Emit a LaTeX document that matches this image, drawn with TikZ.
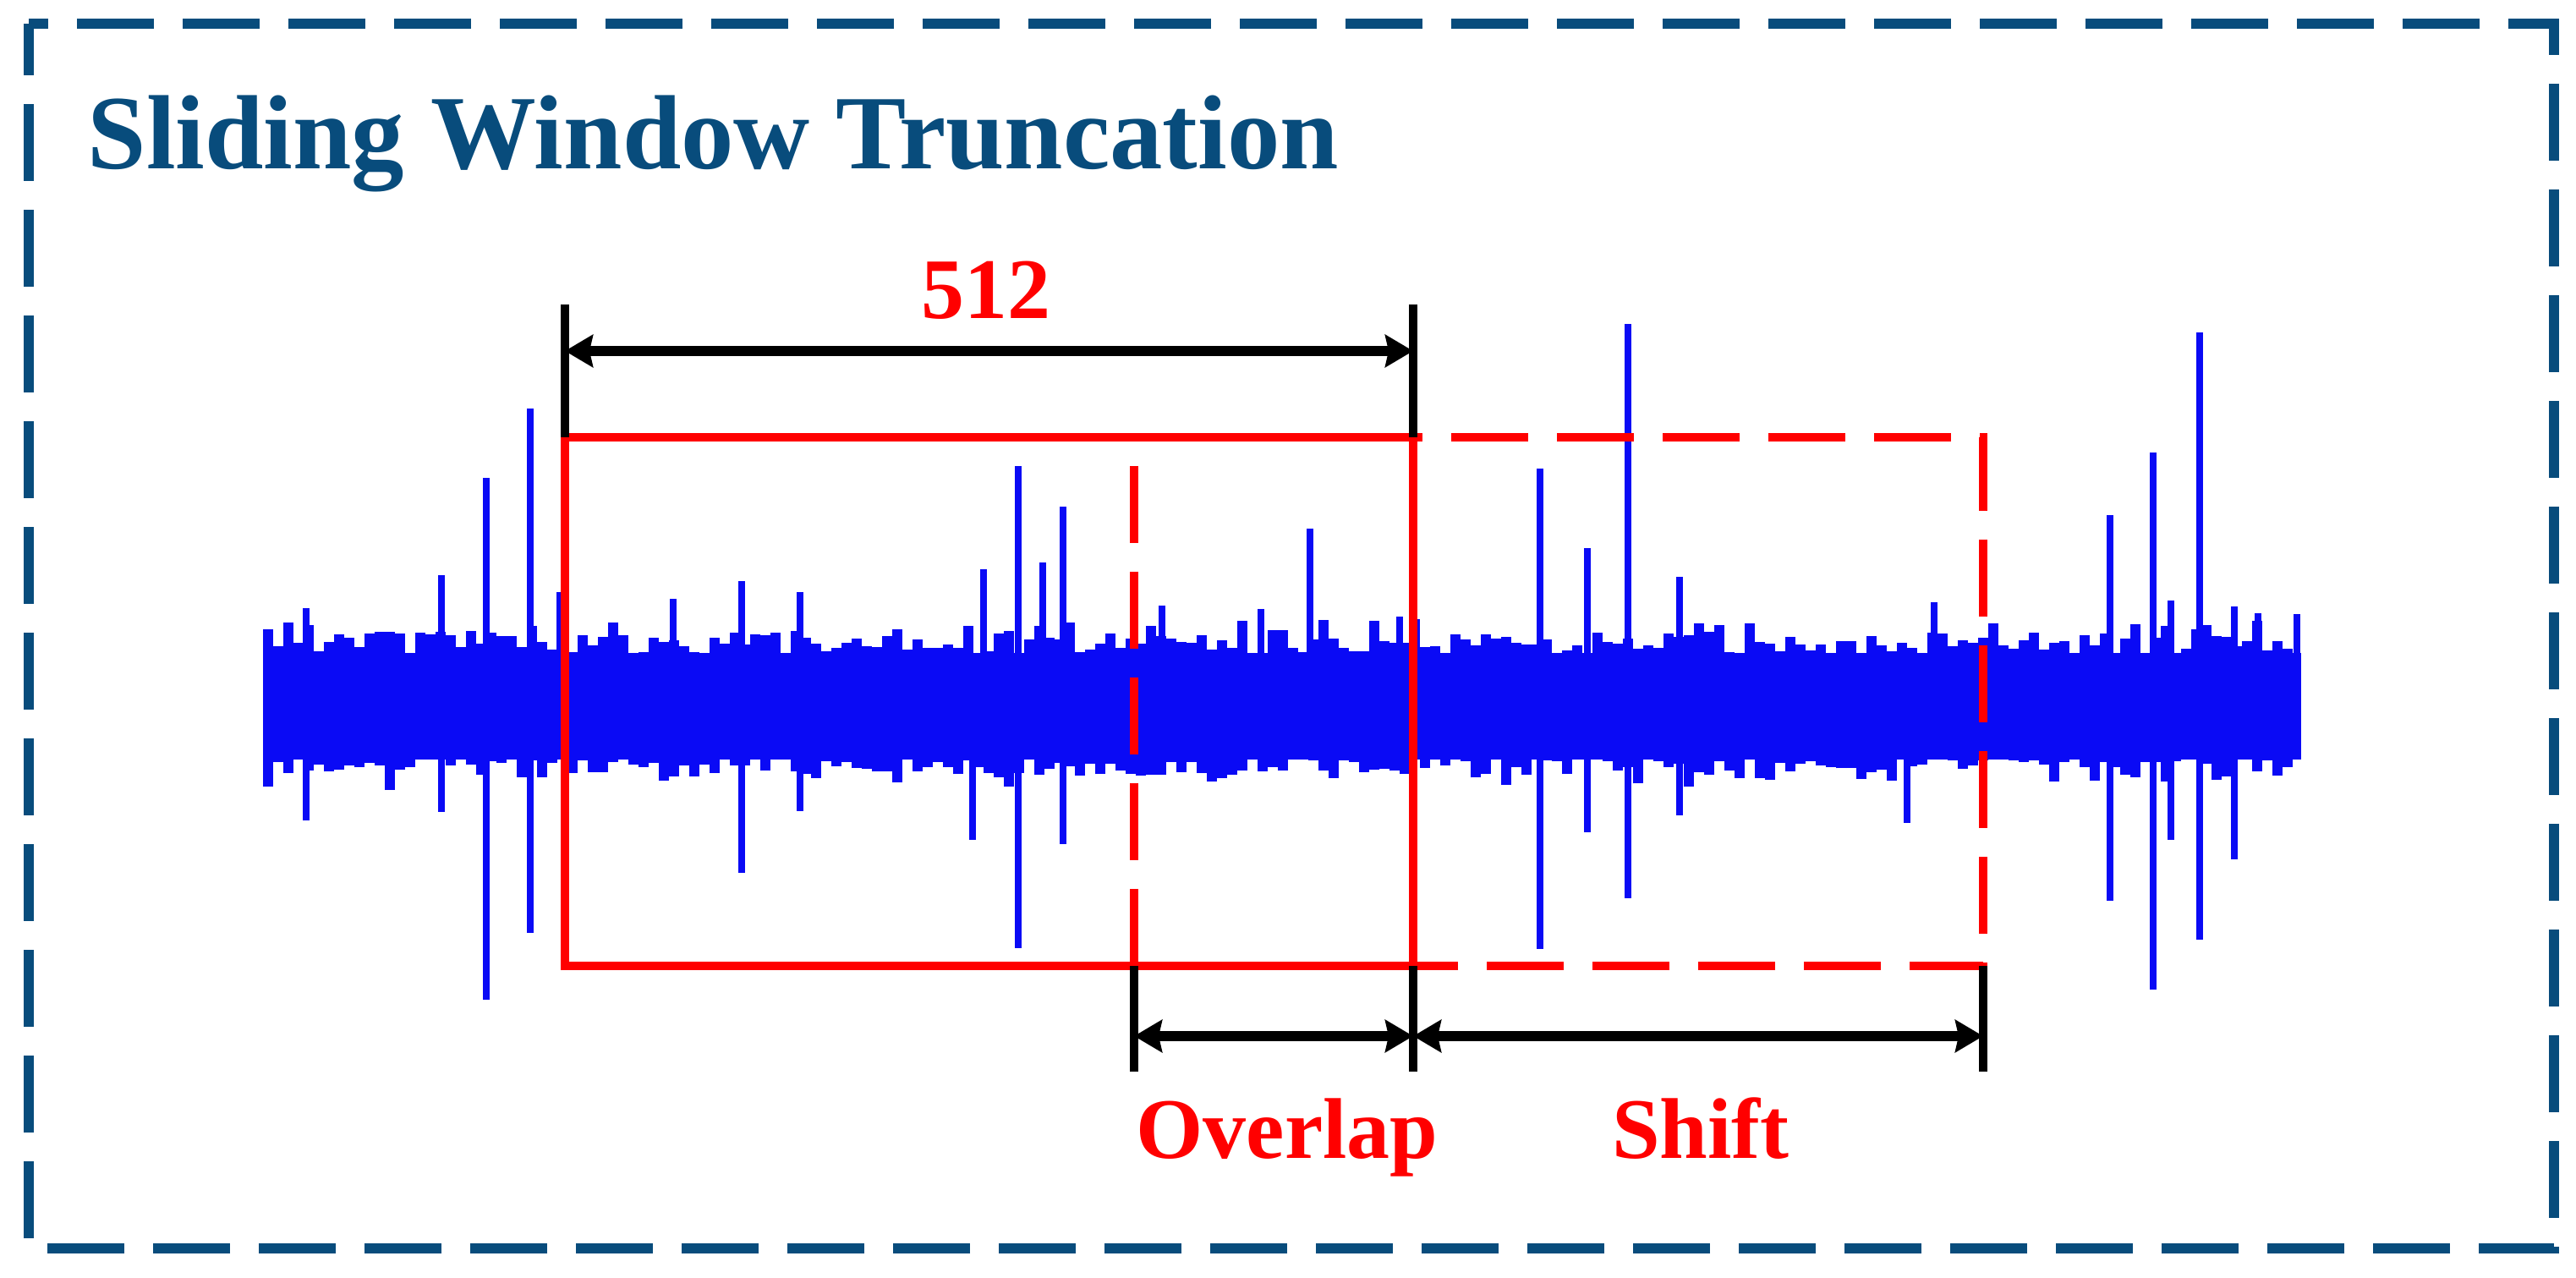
\documentclass[tikz,border=0pt]{standalone}
\usepackage{fontspec}
\setmainfont{Liberation Serif}
\usetikzlibrary{arrows.meta}
\begin{document}
\begin{tikzpicture}[x=1cm,y=1cm,
  sig/.style={draw=SigBlue, line width=0.125cm},
  spike/.style={draw=SigBlue, line width=0.08cm},
  winsolid/.style={draw=red, line width=2.8pt},
  windashed/.style={draw=red, line width=2.8pt, dash pattern=on 0.91cm off 0.34cm},
  dimtick/.style={draw=black, line width=2.7pt},
  dimarrow/.style={draw=black, line width=3.4pt, {Stealth[length=0.33cm,width=0.38cm,inset=0.04cm]}-{Stealth[length=0.33cm,width=0.38cm,inset=0.04cm]}},
  redlabel/.style={text=red, font=\fontsize{29}{34}\selectfont\bfseries, inner sep=0pt, anchor=base}]
\definecolor{FrameBlue}{HTML}{084C7C}
\definecolor{SigBlue}{HTML}{0A0AF5}
\useasboundingbox (0,0) rectangle (30.46,15.10);
\draw[FrameBlue, line width=3.4pt, dash pattern=on 0.91cm off 0.34cm, dash phase=0.68cm]
  (0.34,14.82) -- (30.20,14.82) -- (30.20,0.34) -- (0.34,0.34) -- cycle;
\node[anchor=base west, inner sep=0pt, text=FrameBlue, font=\fontsize{35.5}{42}\selectfont\bfseries] (title) at (1.03,13.10) {Sliding Window Truncation};
\fill[SigBlue] (3.11,6.12) rectangle (27.21,7.38);
\pgfmathsetseed{4217}
\foreach \x in {3.17,3.29,...,27.15}{
  \pgfmathsetmacro{\up}{6.75+0.60+0.46*rnd*(0.4+0.6*rnd)}
  \pgfmathsetmacro{\dn}{6.75-0.58-0.42*rnd*(0.4+0.6*rnd)}
  \draw[sig] (\x,\dn) -- (\x,\up);
}
\foreach \sx/\st/\sb in {3.62/7.91/5.40, 5.22/8.30/5.50, 5.75/9.45/3.28, 6.27/10.27/4.07,
    6.62/8.10/6.75, 7.96/8.02/6.75, 8.77/8.23/4.78, 9.46/8.10/5.51, 11.50/6.75/5.17,
    11.63/8.37/6.75, 12.04/9.59/3.89, 12.33/8.45/6.75, 12.57/9.11/5.12, 13.74/7.94/6.75,
    14.91/7.90/6.75, 15.49/8.85/6.75, 16.55/7.81/6.75, 18.21/9.56/3.88, 18.77/8.62/5.26,
    19.25/11.27/4.48, 19.86/8.28/5.46, 22.55/6.75/5.37, 22.87/7.98/6.75, 24.95/9.01/4.45,
    25.46/9.75/3.40, 25.67/8.00/5.17, 26.01/11.17/3.99, 26.42/7.93/4.94, 26.70/7.85/6.75,
    27.16/7.84/6.75}
  \draw[spike] (\sx,\sb) -- (\sx,\st);
\coordinate (aTL) at (6.68,9.93);
\coordinate (aTR) at (16.71,9.93);
\coordinate (aBR) at (16.71,3.68);
\coordinate (bTL) at (13.41,9.93);
\coordinate (bTR) at (23.45,9.93);
\coordinate (bBR) at (23.45,3.68);
\coordinate (bBL) at (13.41,3.68);
\draw[windashed] (bTL) -- (bTR) -- (bBR) -- (bBL);
\draw[windashed, dash phase=0.91cm] (bTL) -- (bBL);
\draw[winsolid] (aTL) rectangle (aBR);
\coordinate (lenL) at (6.68,11.50);
\coordinate (lenR) at (16.71,11.50);
\coordinate (lenA) at (6.68,10.95);
\coordinate (lenB) at (16.71,10.95);
\draw[dimtick] (aTL) -- (lenL);
\draw[dimtick] (aTR) -- (lenR);
\draw[dimarrow] (lenA) -- (lenB);
\coordinate (ovlT) at (13.41,2.43);
\coordinate (midT) at (16.71,2.43);
\coordinate (sftT) at (23.45,2.43);
\coordinate (ovlA) at (13.41,2.85);
\coordinate (midA) at (16.71,2.85);
\coordinate (sftA) at (23.45,2.85);
\draw[dimtick] (bBL) -- (ovlT);
\draw[dimtick] (aBR) -- (midT);
\draw[dimtick] (bBR) -- (sftT);
\draw[dimarrow] (ovlA) -- (midA);
\draw[dimarrow] (midA) -- (sftA);
\node[redlabel] (len) at (11.66,11.33) {512};
\node[redlabel] (ovl) at (15.22,1.40) {Overlap};
\node[redlabel] (sft) at (20.11,1.40) {Shift};
\end{tikzpicture}
\end{document}
